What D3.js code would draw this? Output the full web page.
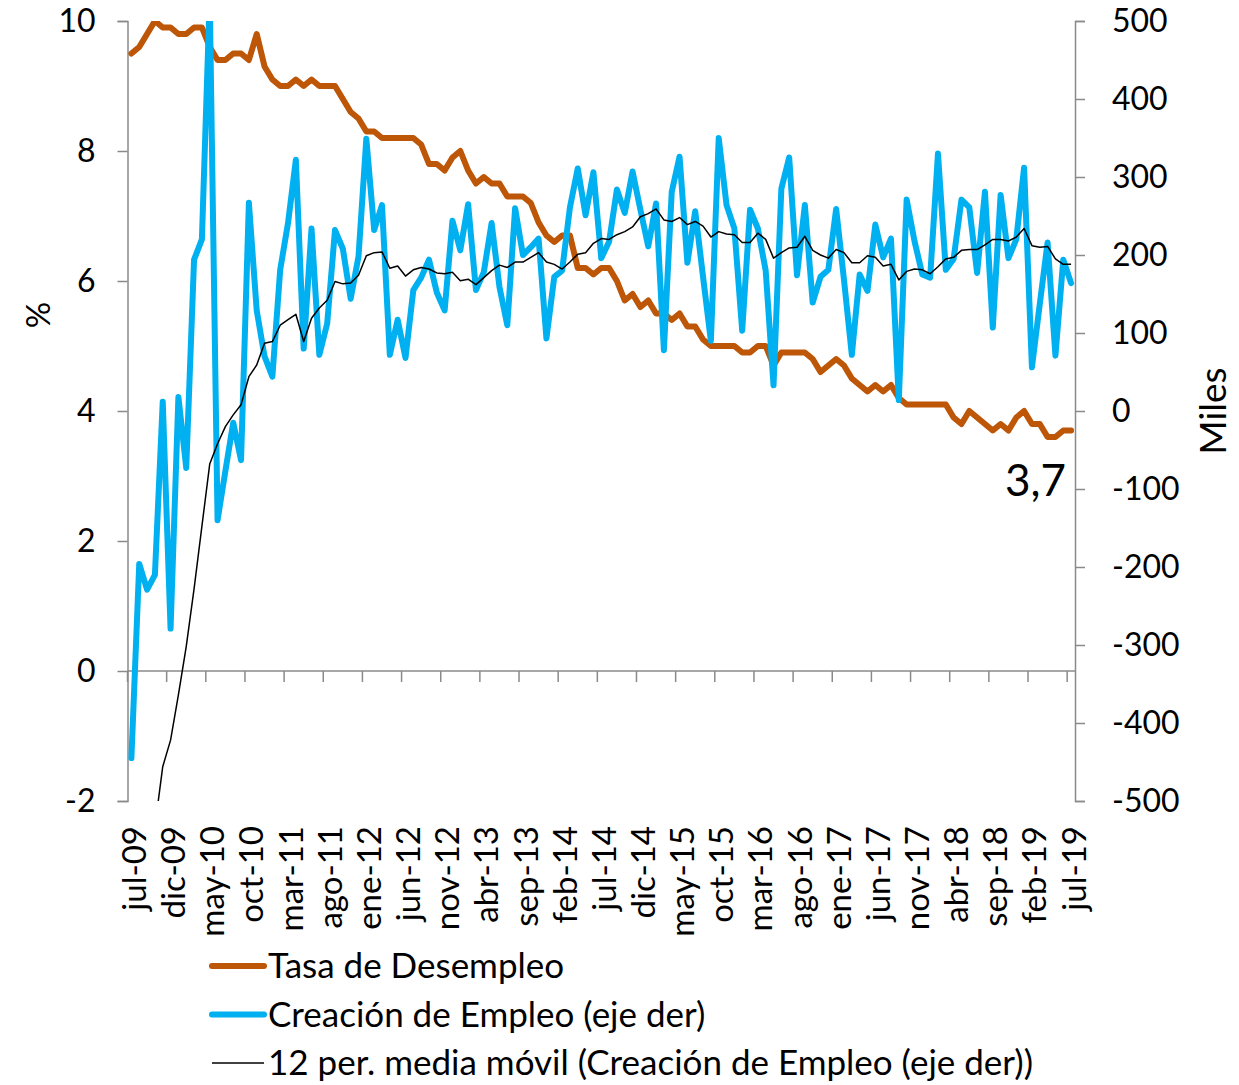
<!DOCTYPE html>
<html>
<head>
<meta charset="utf-8">
<script src="https://cdn.jsdelivr.net/npm/d3@7"></script>
<style>
  body { margin: 0; background: #fff; }
  text { font-family: Lato, "Open Sans", sans-serif; fill: #000; }
</style>
</head>
<body>
<svg width="1239" height="1085"></svg>
<script>
/* data, jul-09 .. jul-19 (121 months) */

var monthNames = ["ene","feb","mar","abr","may","jun","jul","ago","sep","oct","nov","dic"];

var desempleo = [
  9.5, 9.6, 9.8, 10.0, 9.9, 9.9, 9.8, 9.8, 9.9, 9.9, 9.6, 9.4,
  9.4, 9.5, 9.5, 9.4, 9.8, 9.3, 9.1, 9.0, 9.0, 9.1, 9.0, 9.1,
  9.0, 9.0, 9.0, 8.8, 8.6, 8.5, 8.3, 8.3, 8.2, 8.2, 8.2, 8.2,
  8.2, 8.1, 7.8, 7.8, 7.7, 7.9, 8.0, 7.7, 7.5, 7.6, 7.5, 7.5,
  7.3, 7.3, 7.3, 7.2, 6.9, 6.7, 6.6, 6.7, 6.7, 6.2, 6.2, 6.1,
  6.2, 6.2, 6.0, 5.7, 5.8, 5.6, 5.7, 5.5, 5.5, 5.4, 5.5, 5.3,
  5.3, 5.1, 5.0, 5.0, 5.0, 5.0, 4.9, 4.9, 5.0, 5.0, 4.7, 4.9,
  4.9, 4.9, 4.9, 4.8, 4.6, 4.7, 4.8, 4.7, 4.5, 4.4, 4.3, 4.4,
  4.3, 4.4, 4.2, 4.1, 4.1, 4.1, 4.1, 4.1, 4.1, 3.9, 3.8, 4.0,
  3.9, 3.8, 3.7, 3.8, 3.7, 3.9, 4.0, 3.8, 3.8, 3.6, 3.6, 3.7,
  3.7
];

var creacion = [
  -445, -196, -229, -210, 12, -279, 18, -73, 194, 220, 530, -140,
  -77, -15, -63, 267, 129, 70, 44, 181, 241, 322, 80, 234,
  72, 112, 232, 208, 144, 198, 349, 232, 264, 72, 117, 68,
  155, 171, 194, 152, 129, 244, 206, 265, 155, 178, 241, 159,
  110, 260, 200, 210, 221, 93, 172, 180, 261, 311, 251, 306,
  196, 217, 284, 254, 307, 258, 211, 266, 78, 281, 326, 190,
  256, 172, 90, 350, 264, 234, 103, 258, 234, 180, 33, 285,
  325, 174, 264, 139, 172, 181, 259, 168, 72, 175, 154, 239,
  197, 221, 14, 271, 218, 175, 171, 330, 181, 195, 271, 261,
  177, 281, 107, 277, 196, 220, 312, 56, 137, 216, 71, 194,
  164
];

var mediaMovil = [
  null, null, null, -533, -456, -422, -364, -302, -228, -148, -68, -42,
  -20, -5, 8, 44, 59, 87, 89, 110, 117, 124, 89, 119,
  132, 142, 166, 163, 164, 174, 199, 203, 204, 183, 186, 173,
  181, 184, 182, 177, 176, 178, 167, 169, 162, 171, 180, 187,
  184, 191, 191, 197, 203, 191, 188, 182, 191, 201, 203, 215,
  221, 220, 226, 230, 236, 249, 253, 259, 245, 243, 248, 239,
  243, 237, 223, 230, 227, 226, 216, 216, 228, 220, 196, 203,
  209, 210, 224, 206, 200, 196, 207, 203, 190, 190, 199, 197,
  186, 188, 168, 179, 182, 181, 176, 185, 195, 197, 206, 207,
  207, 213, 220, 220, 218, 223, 234, 212, 210, 211, 195, 188,
  188
];

var leftTicks = [-2, 0, 2, 4, 6, 8, 10];
var rightTicks = [-500, -400, -300, -200, -100, 0, 100, 200, 300, 400, 500];

var legendItems = [
  { name: "Tasa de Desempleo", color: "#BD5607", width: 6 },
  { name: "Creación de Empleo (eje der)", color: "#00B0F0", width: 6 },
  { name: "12 per. media móvil (Creación de Empleo (eje der))", color: "#000", width: 1.5 }
];

// month labels jul-09 ... jul-19
var meses = [];
for (var k = 0; k < creacion.length; k++) {
  var m = (6 + k) % 12, yy = 9 + Math.floor((6 + k) / 12);
  meses.push(monthNames[m] + "-" + (yy < 10 ? "0" + yy : yy));
}

var svg = d3.select("svg"),
    pLeft = 127.5, pRight = 1075, pTop = 21, pBottom = 801;

var x = d3.scaleBand()
  .domain(d3.range(meses.length))
  .range([pLeft, pRight]);
var bw = x.bandwidth();
function cx(i) { return x(i) + bw / 2; }

var yL = d3.scaleLinear().domain([-2, 10]).range([pBottom, pTop]);
var yR = d3.scaleLinear().domain([-500, 500]).range([pBottom, pTop]);

var axisColor = "#8a8a8a";
var plainNum = function(d) { return String(d); };   // hyphen minus, like the original

svg.append("clipPath").attr("id", "plot")
  .append("rect")
  .attr("x", pLeft).attr("y", pTop)
  .attr("width", pRight - pLeft).attr("height", pBottom - pTop);

// left axis
var gL = svg.append("g")
  .attr("transform", "translate(" + pLeft + ",0)")
  .call(d3.axisLeft(yL).tickValues(leftTicks).tickSize(10).tickPadding(22)
    .tickFormat(plainNum));

// right axis
var gR = svg.append("g")
  .attr("transform", "translate(" + pRight + ",0)")
  .call(d3.axisRight(yR).tickValues(rightTicks).tickSize(10).tickPadding(27)
    .tickFormat(plainNum));

[gL, gR].forEach(function(g) {
  g.select(".domain").attr("stroke", axisColor).attr("stroke-width", 1.5);
  g.selectAll(".tick line").attr("stroke", axisColor).attr("stroke-width", 1.5);
  g.selectAll(".tick text").style("font-size", "32px").attr("font-family", null);
});

// category axis crossing at 0 %
var y0 = yL(0);
svg.append("line")
  .attr("x1", pLeft).attr("x2", pRight).attr("y1", y0).attr("y2", y0)
  .attr("stroke", axisColor).attr("stroke-width", 1.5);

var tickIdx = d3.range(0, meses.length, 5);
svg.selectAll(".ctick").data(tickIdx).enter().append("line")
  .attr("class", "ctick")
  .attr("x1", function(i) { return x(i); })
  .attr("x2", function(i) { return x(i); })
  .attr("y1", y0).attr("y2", y0 + 11)
  .attr("stroke", axisColor).attr("stroke-width", 1.5);

// category labels at the bottom
var gX = svg.append("g")
  .attr("transform", "translate(3," + 826 + ")")
  .call(d3.axisBottom(x).tickValues(tickIdx).tickSize(0)
    .tickFormat(function(i) { return meses[i]; }));
gX.select(".domain").remove();
gX.selectAll(".tick text")
  .attr("font-family", null)
  .style("font-size", "33px")
  .attr("transform", "rotate(-90)")
  .attr("x", 0).attr("y", 0).attr("dy", "0.35em")
  .attr("text-anchor", "end");

// series
var plot = svg.append("g").attr("clip-path", "url(#plot)");

var lineL = d3.line()
  .x(function(d, i) { return cx(i); })
  .y(function(d) { return yL(d); });

var lineR = d3.line()
  .defined(function(d) { return d != null; })
  .x(function(d, i) { return cx(i); })
  .y(function(d) { return yR(d); });

plot.append("path")
  .attr("d", lineL(desempleo))
  .attr("fill", "none").attr("stroke", legendItems[0].color)
  .attr("stroke-width", 6).attr("stroke-linejoin", "round").attr("stroke-linecap", "round");

plot.append("path")
  .attr("d", lineR(creacion))
  .attr("fill", "none").attr("stroke", legendItems[1].color)
  .attr("stroke-width", 6).attr("stroke-linejoin", "round").attr("stroke-linecap", "round");

plot.append("path")
  .attr("d", lineR(mediaMovil))
  .attr("fill", "none").attr("stroke", legendItems[2].color)
  .attr("stroke-width", 1.5).attr("stroke-linejoin", "round");

// axis titles
svg.append("text")
  .attr("transform", "translate(38,315) rotate(-90)")
  .attr("text-anchor", "middle").attr("dy", "0.35em")
  .style("font-size", "33px")
  .text("%");

svg.append("text")
  .attr("transform", "translate(1213,411) rotate(-90)")
  .attr("text-anchor", "middle").attr("dy", "0.35em")
  .style("font-size", "37px")
  .text("Miles");

// last value label
svg.append("text")
  .attr("x", 1005).attr("y", 496)
  .style("font-size", "44px")
  .text("3,7");

// legend
var leg = svg.append("g").selectAll("g").data(legendItems).enter().append("g")
  .attr("transform", function(d, i) { return "translate(0," + (966 + i * 48.5) + ")"; });

leg.append("line")
  .attr("x1", 212).attr("x2", 264)
  .attr("stroke", function(d) { return d.color; })
  .attr("stroke-width", function(d) { return d.width; })
  .attr("stroke-linecap", function(d) { return d.width > 2 ? "round" : "butt"; });

leg.append("text")
  .attr("x", 268).attr("dy", "0.35em")
  .style("font-size", "35px")
  .text(function(d) { return d.name; });
</script>
</body>
</html>
